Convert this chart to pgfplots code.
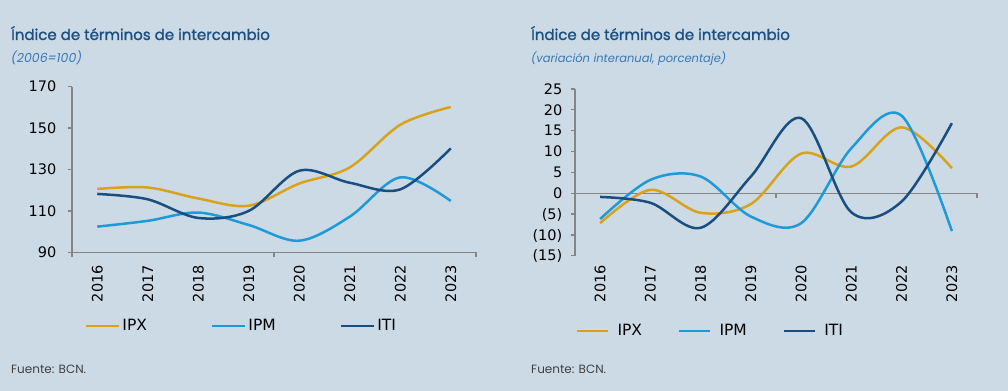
\documentclass[border=0pt]{standalone}
\usepackage{fontspec}
\usepackage{pgfplots}
\pgfplotsset{compat=1.18}
\setmainfont{DejaVu Sans}
\newfontfamily\titlefont{Poppins}
\newfontfamily\titlebold{Poppins}[FakeBold=1.3]
\definecolor{bg}{HTML}{CCDAE6}
\definecolor{cIPX}{HTML}{D8A31A}
\definecolor{cIPM}{HTML}{1E9AD6}
\definecolor{cITI}{HTML}{1A4E80}
\definecolor{ctitle}{HTML}{1B4F82}
\definecolor{csub}{HTML}{3A78B4}
\definecolor{caxis}{HTML}{858585}
\pgfplotsset{
  base/.style={
    scale only axis, anchor=south west, clip=false,
    xmin=-0.5, xmax=7.5,
    /pgf/number format/assume math mode=true,
    tick label style={font=\fontsize{14.5bp}{16bp}\selectfont, text=black},
    axis line style={draw=caxis, line width=1.3bp},
    tick style={draw=caxis, line width=1.3bp},
    tick align=outside, major tick length=4.5bp,
    ytick pos=left,
    xtick=\empty,
    extra x ticks={0,1,2,3,4,5,6,7},
    extra x tick labels={2016,2017,2018,2019,2020,2021,2022,2023},
    extra x tick style={major tick length=0pt, xticklabel style={rotate=90, anchor=east, inner sep=0pt}},
    yticklabel style={anchor=east, inner sep=0pt, text height=10.5bp, text depth=0pt},
    legend style={draw=none, fill=none, inner sep=0pt, outer sep=0pt, legend columns=3,
      font=\fontsize{15.5bp}{17bp}\selectfont, anchor=west,
      nodes={inner sep=0pt, anchor=west}},
    legend cell align=left,
    ser/.style={line width=2.5bp, smooth, tension=0.55, no markers},
  }
}
\pgfplotstableread{
x IPX IPM ITI
0 120.6 102.4 118.2
1 121.3 105.2 115.6
2 116.0 109.2 106.6
3 112.5 103.2 110.0
4 123.2 95.6 129.4
5 131.0 107.2 123.6
6 151.6 126.2 120.4
7 160.2 114.8 140.2
}\levels
\pgfplotstableread{
x IPX IPM ITI
0 -7.2 -6.2 -0.9
1 0.8 3.2 -2.3
2 -4.7 4.0 -8.3
3 -2.6 -5.6 4.0
4 9.5 -7.2 18.0
5 6.4 10.8 -4.6
6 15.8 18.6 -2.0
7 6.0 -9.1 16.8
}\changes
\begin{document}
\begin{tikzpicture}
\fill[bg] (0,0) rectangle (1008bp,391bp);
\path[use as bounding box] (0,0) rectangle (1008bp,391bp);
% titles
\node[anchor=base west, inner sep=0pt, text=ctitle, font=\titlebold\fontsize{15bp}{17bp}\selectfont] at (11bp,351bp) {Índice de términos de intercambio};
\node[anchor=base west, inner sep=0pt, text=csub, font=\titlefont\itshape\fontsize{12.5bp}{14bp}\selectfont] at (11bp,328.5bp) {(2006=100)};
\node[anchor=base west, inner sep=0pt, text=ctitle, font=\titlebold\fontsize{15bp}{17bp}\selectfont] at (531bp,351bp) {Índice de términos de intercambio};
\node[anchor=base west, inner sep=0pt, text=csub, font=\titlefont\itshape\fontsize{11.5bp}{13bp}\selectfont] at (531bp,328.5bp) {(variación interanual, porcentaje)};
\node[anchor=base west, inner sep=0pt, text=black!75, font=\titlefont\fontsize{12bp}{14bp}\selectfont] at (11bp,18bp) {Fuente: BCN.};
\node[anchor=base west, inner sep=0pt, text=black!75, font=\titlefont\fontsize{12bp}{14bp}\selectfont] at (531bp,18bp) {Fuente: BCN.};

\begin{axis}[base,
  at={(72bp,138.7bp)}, width=404bp, height=165.6bp,
  ymin=90, ymax=170, ytick={90,110,130,150,170},
  axis x line*=bottom, axis y line*=left,
  xtick={-0.5,3.5,7.5}, xticklabels={},
  yticklabel style={xshift=-11bp},
  extra x tick style={xticklabel style={xshift=-12.7bp}},
  legend style={at={(0.032,-0.445)}, /tikz/every odd column/.append style={column sep=2bp}, /tikz/every even column/.append style={column sep=64bp}},
  legend image code/.code={\draw[#1] (0bp,0bp) -- (33bp,0bp);},
]
\addplot[ser, cIPX] table[x=x, y=IPX] {\levels};
\addplot[ser, cIPM] table[x=x, y=IPM] {\levels};
\addplot[ser, cITI] table[x=x, y=ITI] {\levels};
\legend{IPX,IPM,ITI}
\end{axis}

\begin{axis}[base,
  at={(575bp,135.3bp)}, width=402bp, height=166.7bp,
  ymin=-15, ymax=25, ytick={-15,-10,-5,0,5,10,15,20,25},
  yticklabels={(15),(10),(5),0,5,10,15,20,25},
  axis x line*=bottom, axis y line*=left,
  x axis line style={draw=none},
  yticklabel style={xshift=-8bp},
  extra x tick style={xticklabel style={xshift=-9.3bp}},
  legend style={at={(0.0025,-0.452)}, /tikz/every odd column/.append style={column sep=8bp}, /tikz/every even column/.append style={column sep=36bp}},
  legend image code/.code={\draw[#1] (0bp,0bp) -- (31bp,0bp);},
]
\addplot[caxis, line width=1.3bp, forget plot] coordinates {(-0.5,0) (7.5,0)};
\addplot[caxis, line width=1.3bp, forget plot] coordinates {(3.5,0) (3.5,-1.1)};
\addplot[caxis, line width=1.3bp, forget plot] coordinates {(7.5,0) (7.5,-1.1)};
\addplot[ser, cIPX] table[x=x, y=IPX] {\changes};
\addplot[ser, cIPM] table[x=x, y=IPM] {\changes};
\addplot[ser, cITI] table[x=x, y=ITI] {\changes};
\legend{IPX,IPM,ITI}
\end{axis}
\end{tikzpicture}
\end{document}
